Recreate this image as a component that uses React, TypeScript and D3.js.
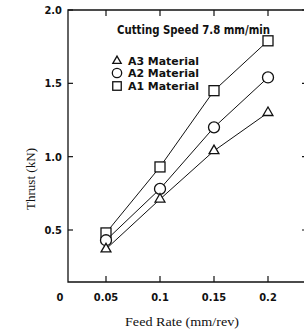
import React from 'react';
import * as d3 from 'd3';

const feedRates = [0.05, 0.1, 0.15, 0.2];
const a1Thrust = [0.48, 0.93, 1.45, 1.79];
const a2Thrust = [0.43, 0.78, 1.2, 1.54];
const a3Thrust = [0.37, 0.71, 1.04, 1.3];
const yTicks = [0.5, 1.0, 1.5, 2.0];
const xTickLabels = ['0.05', '0.1', '0.15', '0.2'];
const legendLabels = ['A3 Material', 'A2 Material', 'A1 Material'];

const W = 304;
const H = 334;
const left = 68;
const right = 304;
const top = 10;
const bottom = 282;

const x = d3.scaleLinear().domain([0.05, 0.2]).range([106, 268]);
const y = d3.scaleLinear().domain([0.5, 2.0]).range([230, top]);

const tickFont = '"DejaVu Sans Condensed", "Liberation Sans", sans-serif';
const serif = '"Liberation Serif", "DejaVu Serif", serif';

function Marker({ kind, cx, cy, s = 1 }: { kind: string; cx: number; cy: number; s?: number }) {
  const common = { fill: 'white', stroke: '#111', strokeWidth: 1.3 };
  if (kind === 'square') {
    return <rect x={cx - 5 * s} y={cy - 5 * s} width={10 * s} height={10 * s} {...common} />;
  }
  if (kind === 'circle') {
    return <circle cx={cx} cy={cy} r={5.5 * s} {...common} />;
  }
  const tri = d3.symbol().type(d3.symbolTriangle).size(42 * s * s)();
  return <path d={tri || ''} transform={`translate(${cx},${cy})`} {...common} />;
}

export default function App() {
  const line = d3
    .line<number>()
    .x((_, i) => x(feedRates[i]))
    .y((d) => y(d));

  const series = [
    { kind: 'square', values: a1Thrust },
    { kind: 'circle', values: a2Thrust },
    { kind: 'triangle', values: a3Thrust },
  ];

  return (
    <svg
      width={W}
      height={H}
      style={{ position: 'absolute', left: 0, top: 0, background: 'white' }}
    >
      {/* frame */}
      <path
        d={`M${right},${top}H${left}V${bottom}H${right}`}
        fill="none"
        stroke="#111"
        strokeWidth={1.3}
      />
      {/* x ticks top & bottom */}
      {feedRates.map((f) => (
        <g key={f}>
          <line x1={x(f)} x2={x(f)} y1={bottom} y2={bottom - 6} stroke="#111" strokeWidth={1.2} />
          <line x1={x(f)} x2={x(f)} y1={top} y2={top + 6} stroke="#111" strokeWidth={1.2} />
        </g>
      ))}
      {/* y ticks left & right */}
      {yTicks.map((t) => (
        <g key={t}>
          <line x1={left} x2={left + 5} y1={y(t)} y2={y(t)} stroke="#111" strokeWidth={1.2} />
          <line x1={right - 2} x2={right} y1={y(t)} y2={y(t)} stroke="#111" strokeWidth={1.2} />
          <text
            x={left - 6}
            y={y(t)}
            dy="0.35em"
            textAnchor="end"
            fontFamily={tickFont}
            fontWeight="bold"
            fontSize={11}
            fill="#111"
          >
            {t.toFixed(1)}
          </text>
        </g>
      ))}
      {/* x tick labels */}
      <text x={60} y={301} textAnchor="middle" fontFamily={tickFont} fontWeight="bold" fontSize={11} fill="#111">
        0
      </text>
      {xTickLabels.map((l, i) => (
        <text
          key={l}
          x={x(feedRates[i])}
          y={301}
          textAnchor="middle"
          fontFamily={tickFont}
          fontWeight="bold"
          fontSize={11}
          fill="#111"
        >
          {l}
        </text>
      ))}
      {/* axis titles */}
      <text
        x={182}
        y={326}
        textAnchor="middle"
        fontFamily={serif}
        fontSize={13}
        fill="#111"
        textLength={114}
        lengthAdjust="spacingAndGlyphs"
      >
        Feed Rate (mm/rev)
      </text>
      <text
        transform="translate(35,179) rotate(-90)"
        textAnchor="middle"
        fontFamily={serif}
        fontSize={13}
        fill="#111"
        textLength={62}
        lengthAdjust="spacingAndGlyphs"
      >
        Thrust (kN)
      </text>
      {/* series */}
      {series.map((s) => (
        <g key={s.kind}>
          <path d={line(s.values) || ''} fill="none" stroke="#111" strokeWidth={1} />
          {s.values.map((v, i) => (
            <Marker key={i} kind={s.kind} cx={x(feedRates[i])} cy={y(v)} />
          ))}
        </g>
      ))}
      {/* annotation & legend */}
      <text
        x={117}
        y={34}
        fontFamily={tickFont}
        fontWeight="bold"
        fontSize={12}
        fill="#111"
        textLength={153}
        lengthAdjust="spacingAndGlyphs"
      >
        Cutting Speed 7.8 mm/min
      </text>
      {legendLabels.map((l, i) => {
        const ly = [61, 73, 86][i];
        const kind = ['triangle', 'circle', 'square'][i];
        return (
          <g key={l}>
            <Marker kind={kind} cx={117} cy={ly} s={0.85} />
            <text
              x={128}
              y={ly}
              dy="0.35em"
              fontFamily={tickFont}
              fontWeight="bold"
              fontSize={10}
              fill="#111"
              textLength={71}
              lengthAdjust="spacingAndGlyphs"
            >
              {l}
            </text>
          </g>
        );
      })}
    </svg>
  );
}
